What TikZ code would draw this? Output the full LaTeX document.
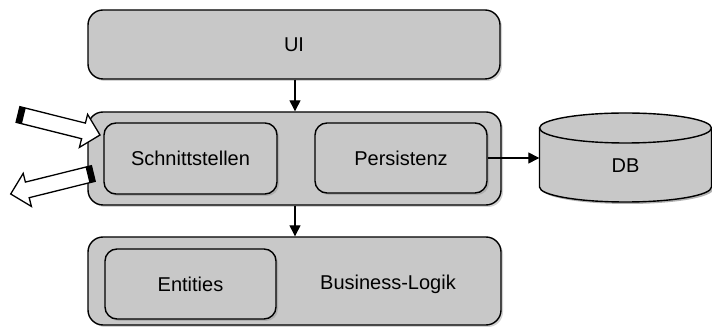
\documentclass[tikz,border=0pt]{standalone}
\usepackage{fontspec}
\setmainfont{Liberation Sans}
\usetikzlibrary{arrows.meta,shadows}
\definecolor{boxgray}{RGB}{200,200,200}
\begin{document}
\begin{tikzpicture}[x=1pt,y=-1pt,
  outerbox/.style={draw=black,line width=1.4pt,fill=boxgray,rounded corners=15pt,
    drop shadow={opacity=0.35,shadow xshift=2pt,shadow yshift=-2pt},
    inner sep=0pt,font=\fontsize{20}{24}\selectfont},
  innerbox/.style={draw=black,line width=1.4pt,fill=boxgray,rounded corners=12pt,
    drop shadow={opacity=0.35,shadow xshift=2pt,shadow yshift=-2pt},
    inner sep=0pt,font=\fontsize{20}{24}\selectfont},
  label/.style={inner sep=0pt,font=\fontsize{20}{24}\selectfont},
  conn/.style={line width=1.3pt,-{Triangle[length=11pt,width=11pt]}},
  blockarrow/.style={draw=black,line width=1.3pt,fill=white,line join=miter}
]
\useasboundingbox (0,0) rectangle (712,328);

% outer boxes
\node[outerbox,minimum width=412pt,minimum height=69pt] (ui) at (294,44.5) {UI};
\node[outerbox,minimum width=413pt,minimum height=93pt] (mid) at (294.5,158.5) {};
\node[outerbox,minimum width=413pt,minimum height=88pt] (bot) at (294.5,281) {};

% inner boxes
\node[innerbox,minimum width=173pt,minimum height=71pt] (schnitt) at (190.5,158.5) {Schnittstellen};
\node[innerbox,minimum width=172pt,minimum height=70pt] (pers) at (401,158) {Persistenz};
\node[innerbox,minimum width=171pt,minimum height=70pt] (ent) at (190.5,284) {Entities};
\node[label] (bl) at (388,284) {Business-Logik};

% DB cylinder
\fill[black,opacity=0.3] (541.5,130) -- (541.5,189)
  arc[start angle=180,end angle=0,x radius=86,y radius=15] -- (713.5,130) -- cycle;
\filldraw[draw=black,line width=1.4pt,fill=boxgray]
  (539.5,128) -- (539.5,187)
  arc[start angle=180,end angle=0,x radius=86,y radius=15]
  -- (711.5,128)
  arc[start angle=0,end angle=-180,x radius=86,y radius=15] -- cycle;
\draw[line width=1.4pt] (539.5,128)
  arc[start angle=180,end angle=0,x radius=86,y radius=15];
\node[label,minimum width=172pt,minimum height=60pt] (db) at (625.5,166) {DB};

% connectors
\draw[conn] (ui.south -| 295,0) -- (mid.north -| 295,0);
\draw[conn] (mid.south -| 295,0) -- (bot.north -| 295,0);
\draw[conn] (pers.east) -- (db.west |- pers.east);

% block arrows
\coordinate (inTail) at (18,114.5);
\coordinate (inTip) at (100,135);
\filldraw[blockarrow] (19.9,106.7) -- (85.4,123.1) -- (87.6,114.4) -- (inTip)
  -- (79.4,147.4) -- (81.6,138.7) -- (16.1,122.3) -- cycle;
\fill[black] (19.9,106.7) -- (16.1,122.3) -- (21.9,123.8) -- (25.7,108.2) -- cycle;

\coordinate (outTail) at (93.3,173.5);
\coordinate (outTip) at (10.7,194);
\filldraw[blockarrow] (91.4,165.7) -- (25.4,182.1) -- (23.2,173.4) -- (outTip)
  -- (31.4,206.4) -- (29.2,197.7) -- (95.2,181.3) -- cycle;
\fill[black] (91.4,165.7) -- (95.2,181.3) -- (89.4,182.8) -- (85.6,167.2) -- cycle;
\end{tikzpicture}
\end{document}
